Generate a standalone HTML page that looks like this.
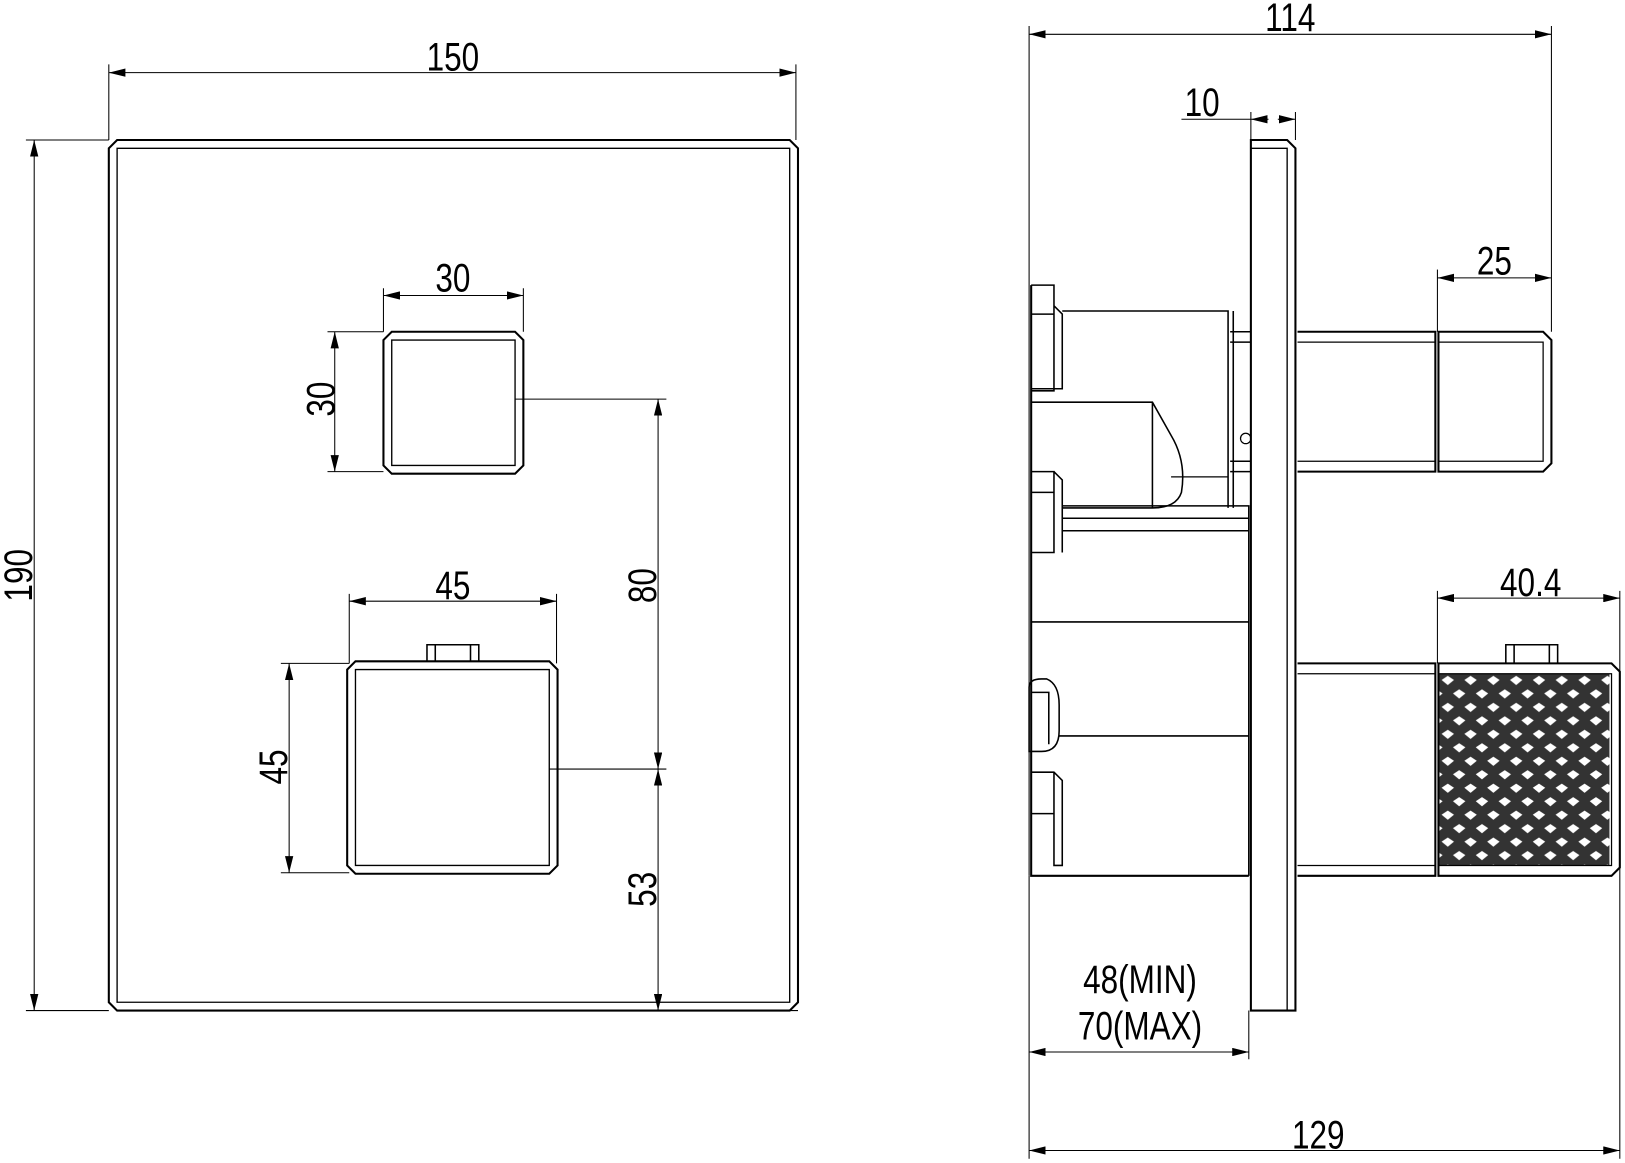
<!DOCTYPE html>
<html><head><meta charset="utf-8"><style>
html,body{margin:0;padding:0;background:#fff}
svg{display:block}
text{font-family:"Liberation Sans",sans-serif;font-size:38px;fill:#000}
</style></head><body>
<svg width="1625" height="1163" viewBox="0 0 1568 1122" xmlns="http://www.w3.org/2000/svg">
<defs>
<marker id="a" viewBox="0 0 12 6" refX="12" refY="3" markerWidth="16" markerHeight="8" orient="auto-start-reverse" markerUnits="userSpaceOnUse"><path d="M0,0L12,3L0,6z" fill="#000"/></marker>
<pattern id="k" width="22" height="26" patternUnits="userSpaceOnUse">
<rect width="22" height="26" fill="#333"/>
<path d="M11,2 L17,6 L11,11 L5,6Z M0,15 L6,19 L0,24 M22,15 L16,19 L22,24" fill="#fff"/>
</pattern>
</defs>
<g fill="none" stroke="#000" stroke-width="2">
<path d="M113,135H762L770,143V967L762,975H113L105,967V143Z"/>
<path d="M113,143H762V967H113Z" stroke-width="1.3"/>
<path d="M378,320H497L505,328V449L497,457H378L370,449V328Z"/>
<path d="M378,328H497V449H378Z" stroke-width="1.3"/>
<path d="M343,638H530L538,646V835L530,843H343L335,835V646Z"/>
<path d="M343,646H530V835H343Z" stroke-width="1.3"/>
<path d="M412,638V622H462V638M420,622V638M454,622V638" stroke-width="1.5"/>
</g>
<g fill="none" stroke="#000" stroke-width="1">
<path d="M105,62V135M768,62V135"/>
<line x1="105" y1="70" x2="768" y2="70" marker-start="url(#a)" marker-end="url(#a)"/>
<path d="M25,135H105M25,975H105"/>
<line x1="33" y1="135" x2="33" y2="975" marker-start="url(#a)" marker-end="url(#a)"/>
<path d="M370,278V320M505,278V320"/>
<line x1="370" y1="285" x2="505" y2="285" marker-start="url(#a)" marker-end="url(#a)"/>
<path d="M316,320H370M316,455H370"/>
<line x1="323" y1="320" x2="323" y2="455" marker-start="url(#a)" marker-end="url(#a)"/>
<path d="M497,385H643M530,742H643M643,975H770"/>
<line x1="635" y1="385" x2="635" y2="742" marker-start="url(#a)" marker-end="url(#a)"/>
<line x1="635" y1="742" x2="635" y2="975" marker-start="url(#a)" marker-end="url(#a)"/>
<path d="M337,573V640M537,573V640"/>
<line x1="337" y1="580" x2="537" y2="580" marker-start="url(#a)" marker-end="url(#a)"/>
<path d="M271,640H337M271,842H337"/>
<line x1="279" y1="640" x2="279" y2="842" marker-start="url(#a)" marker-end="url(#a)"/>
</g>
<g>
<text transform="translate(437,68) scale(0.8,1)" text-anchor="middle">150</text>
<text transform="translate(31,555) rotate(-90) scale(0.8,1)" text-anchor="middle">190</text>
<text transform="translate(437,281) scale(0.8,1)" text-anchor="middle">30</text>
<text transform="translate(323,385) rotate(-90) scale(0.8,1)" text-anchor="middle">30</text>
<text transform="translate(633,565) rotate(-90) scale(0.8,1)" text-anchor="middle">80</text>
<text transform="translate(633,858) rotate(-90) scale(0.8,1)" text-anchor="middle">53</text>
<text transform="translate(437,578) scale(0.8,1)" text-anchor="middle">45</text>
<text transform="translate(277,740) rotate(-90) scale(0.8,1)" text-anchor="middle">45</text>
</g>

<g fill="none" stroke="#000" stroke-width="2">
<path d="M1207,135H1242L1250,143V975H1207Z"/>
<path d="M1207,143H1242V975" stroke-width="1.3"/>
<path d="M1252,320H1385V455H1252"/>
<path d="M1252,330H1385M1252,445H1385" stroke-width="1.2"/>
<path d="M1388,320H1489L1497,328V447L1489,455H1388Z"/>
<path d="M1388,330H1489V445H1388" stroke-width="1.2"/>
<path d="M1252,640H1385V845H1252"/>
<path d="M1252,650H1385M1252,835H1385" stroke-width="1.2"/>
<rect x="1388" y="650" width="165" height="185" fill="url(#k)" stroke="none"/>
<path d="M1388,640H1555L1563,648V837L1555,845H1388Z"/>
<path d="M1388,650H1555V835H1388" stroke-width="1.2"/>
<path d="M1453,640V622H1503V640M1461,622V640M1495,622V640" stroke-width="1.5"/>
<path d="M995,275V845H1205"/>
<path d="M995,275H1017V377H995M1017,295L1025,303V375H995M995,303H1017" stroke-width="1.5"/>
<path d="M1025,300H1185V490M1190,300V490M1187,320H1207M1187,330H1207M1187,445H1207M1187,455H1207" stroke-width="1.5"/>
<path d="M995,388H1112L1130,420Q1145,445 1140,475Q1135,490 1112,490H1025M1112,388V490" stroke-width="1.5"/>
<path d="M1130,460H1185" stroke-width="1.2"/>
<circle cx="1202" cy="423" r="5" stroke-width="1.2"/>
<path d="M995,455H1017V533H995M1017,455L1025,463V533M1017,475H995" stroke-width="1.5"/>
<path d="M1025,488H1205V500H1025M1025,512H1205" stroke-width="1.5"/>
<path d="M1205,500V845M995,600H1205M1022,710H1205" stroke-width="1.5"/>
<path d="M993,663Q993,655 1005,655H1010Q1022,660 1022,680V705Q1022,725 1005,725H993Z M995,668H1012V718" stroke-width="1.5"/>
<path d="M995,745H1017L1025,753V835H1017V745M995,785H1017" stroke-width="1.5"/>
</g>
<g fill="none" stroke="#000" stroke-width="1">
<path d="M993,25V845M1497,25V320"/>
<line x1="993" y1="33" x2="1497" y2="33" marker-start="url(#a)" marker-end="url(#a)"/>
<path d="M1207,108V135M1250,108V135M1140,115H1207"/>
<line x1="1207" y1="115" x2="1224" y2="115" marker-start="url(#a)"/>
<line x1="1233" y1="115" x2="1250" y2="115" marker-end="url(#a)"/>
<path d="M1387,260V320"/>
<line x1="1387" y1="268" x2="1497" y2="268" marker-start="url(#a)" marker-end="url(#a)"/>
<path d="M1387,570V640M1563,570V1118"/>
<line x1="1387" y1="577" x2="1563" y2="577" marker-start="url(#a)" marker-end="url(#a)"/>
<path d="M993,845V1118M1205,975V1022"/>
<line x1="993" y1="1015" x2="1205" y2="1015" marker-start="url(#a)" marker-end="url(#a)"/>
<line x1="993" y1="1110" x2="1563" y2="1110" marker-start="url(#a)" marker-end="url(#a)"/>
</g>
<text transform="translate(1245,30) scale(0.8,1)" text-anchor="middle">114</text>
<text transform="translate(1160,112) scale(0.8,1)" text-anchor="middle">10</text>
<text transform="translate(1442,265) scale(0.8,1)" text-anchor="middle">25</text>
<text transform="translate(1477,575) scale(0.8,1)" text-anchor="middle">40.4</text>
<text transform="translate(1100,958) scale(0.8,1)" text-anchor="middle">48(MIN)</text>
<text transform="translate(1100,1003) scale(0.8,1)" text-anchor="middle">70(MAX)</text>
<text transform="translate(1272,1108) scale(0.8,1)" text-anchor="middle">129</text>
</svg>
</body></html>
